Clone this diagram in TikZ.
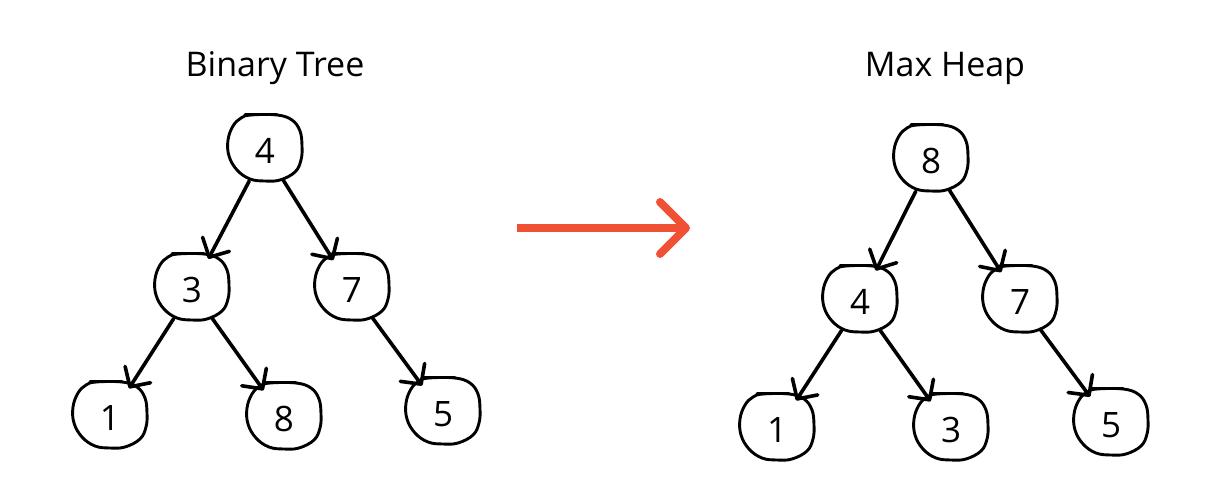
\documentclass[tikz,border=0pt]{standalone}
\usepackage{fontspec}
\setmainfont{Open Sans}
\usetikzlibrary{calc}
\definecolor{accent}{HTML}{F05135}

\tikzset{
  blobline/.style={line width=2.9pt, line join=round, line cap=round},
  treenode/.style={circle, minimum size=68pt, inner sep=0pt, outer sep=0pt,
    font=\fontsize{35}{35}\selectfont},
  title/.style={font=\fontsize{34}{34}\selectfont},
  edgeline/.style={line width=3.6pt, line cap=round, line join=round},
  bigarrow/.style={accent, line width=8pt},
}

% hand-drawn outline around a node
\newcommand\blobaround[1]{%
  \draw[blobline, shift={(#1.center)}, yshift=3pt]
    plot[smooth cycle, tension=0.65] coordinates {
      (-14,-33) (12,-33) (27,-28) (35,-17) (37,-2) (36,12) (30,24) (15,32)
      (0,33) (-15,31) (-28,22) (-36,8) (-37,-8) (-32,-22) (-24,-30)};
  \draw[blobline, shift={(#1.center)}, yshift=3pt] (-20,-33.5) -- (12,-33.5);
}

% parent-to-child connector with an open barbed head
\newcommand\linkto[2]{%
  \coordinate (#2-tip) at ($(#2.center)!37pt!(#1.center)$);
  \draw[edgeline] (#1) -- (#2-tip);
  \draw[edgeline] ($(#2-tip)!21pt!46:(#1.center)$) -- (#2-tip)
    -- ($(#2-tip)!21pt!-46:(#1.center)$);
}

\begin{document}
\begin{tikzpicture}[x=1pt, y=-1pt]
  \useasboundingbox (0,0) rectangle (1228,500);

  % titles
  \node[title] (t1) at (275,68) {Binary Tree};
  \node[title] (t2) at (945,68) {Max Heap};

  % binary tree
  \node[treenode] (a4) at (265,151) {4};
  \node[treenode] (a3) at (192,290) {3};
  \node[treenode] (a7) at (352,290) {7};
  \node[treenode] (a1) at (110,418) {1};
  \node[treenode] (a8) at (284,419) {8};
  \node[treenode] (a5) at (443,414) {5};

  % max heap
  \node[treenode] (b8) at (931,161) {8};
  \node[treenode] (b4) at (860,302) {4};
  \node[treenode] (b7) at (1020,302) {7};
  \node[treenode] (b1) at (777,430) {1};
  \node[treenode] (b3) at (951,430) {3};
  \node[treenode] (b5) at (1111,425) {5};

  \foreach \n in {a4,a3,a7,a1,a8,a5,b8,b4,b7,b1,b3,b5} {\blobaround{\n}}

  \linkto{a4}{a3}
  \linkto{a4}{a7}
  \linkto{a3}{a1}
  \linkto{a3}{a8}
  \linkto{a7}{a5}

  \linkto{b8}{b4}
  \linkto{b8}{b7}
  \linkto{b4}{b1}
  \linkto{b4}{b3}
  \linkto{b7}{b5}

  % transformation arrow
  \coordinate (s) at (517,228);
  \coordinate (e) at (686,228);
  \coordinate (u) at (660,202);
  \coordinate (d) at (660,254);
  \draw[bigarrow] (s) -- (e);
  \draw[bigarrow, line cap=round, line join=round] (u) -- (e) -- (d);
\end{tikzpicture}
\end{document}
